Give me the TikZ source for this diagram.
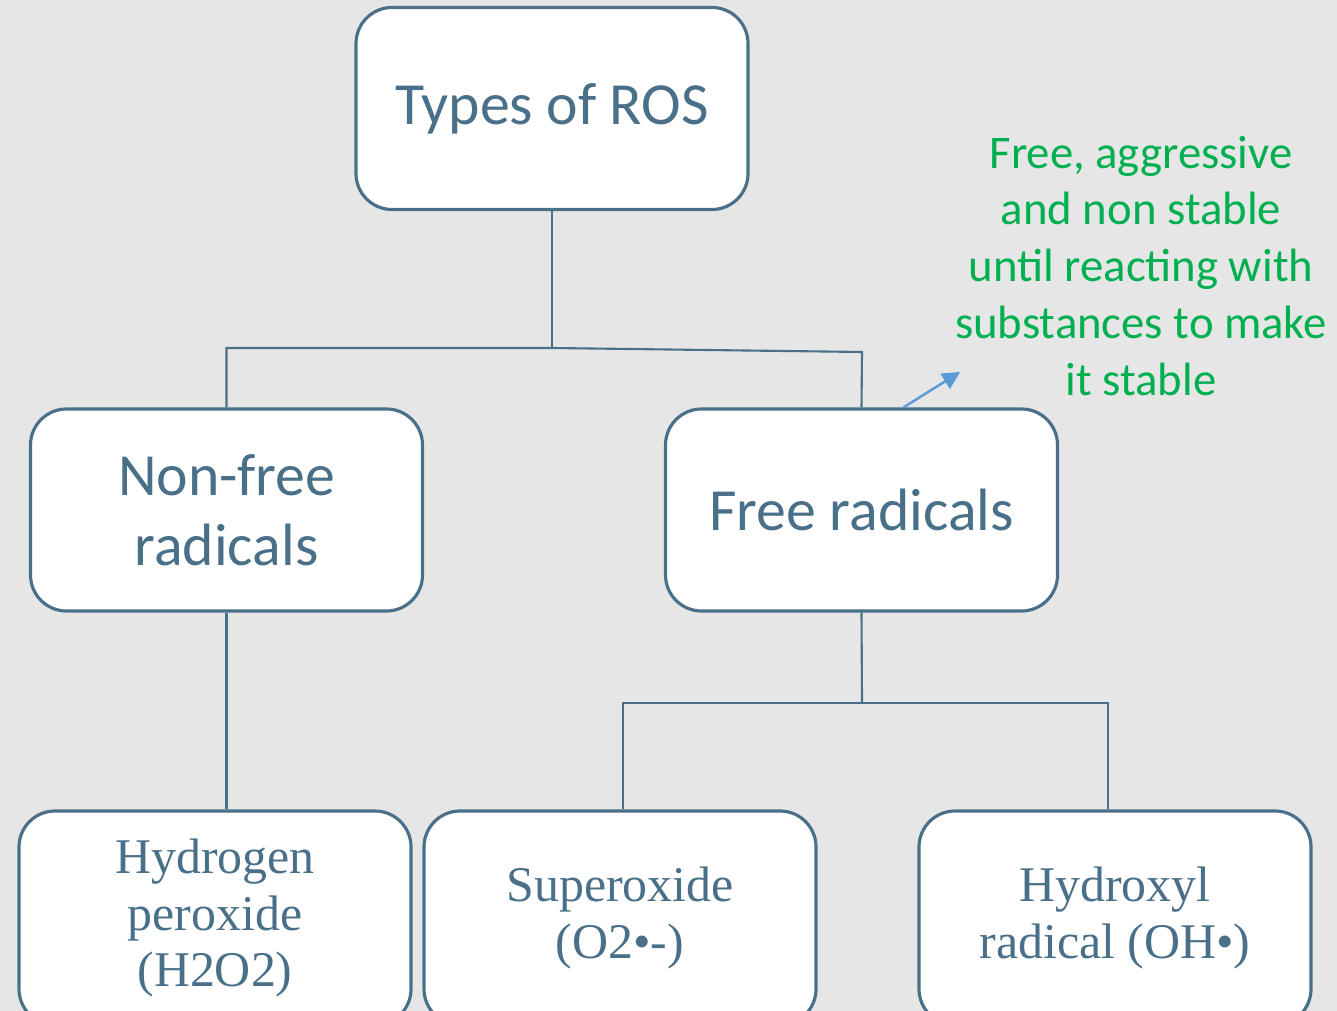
\documentclass[tikz,border=0pt]{standalone}
\usepackage{fontspec}
\setmainfont{Liberation Serif}
\newfontfamily\calib{Carlito}
\usetikzlibrary{arrows.meta}
\definecolor{slate}{HTML}{4A7089}
\definecolor{paper}{HTML}{E6E6E6}
\definecolor{leafgreen}{HTML}{00B050}
\definecolor{skyblue}{HTML}{5B9BD5}
\tikzset{
  box/.style={draw=slate,line width=0.9pt,fill=white,rounded corners=0.36cm,
    minimum width=3.92cm,minimum height=2.02cm,align=center,text=slate,inner sep=0pt},
  headbox/.style={box,font={\calib\fontsize{17}{20}\selectfont}},
  leafbox/.style={box,minimum height=2.14cm,font={\fontsize{14.2}{16}\selectfont}},
  conn/.style={slate,line width=0.6pt},
  note/.style={align=center,text=leafgreen,font={\calib\fontsize{13.3}{16.2}\selectfont}}
}
\begin{document}
\begin{tikzpicture}
  \useasboundingbox (0,0) rectangle (13.37,-10.11);
  \clip (0,0) rectangle (13.37,-10.11);
  \fill[paper] (0,0) rectangle (13.37,-10.11);
  % boxes
  \node[headbox] (ros) at (5.52,-1.085) {Types of ROS};
  \node[headbox] (nonfree) at (2.265,-5.10) {Non-free\\radicals};
  \node[headbox] (free) at (8.615,-5.10) {Free radicals};
  \node[leafbox] (hperox) at (2.15,-9.18) {Hydrogen\\peroxide\\(H2O2)};
  \node[leafbox] (superox) at (6.20,-9.18) {Superoxide\\(O2•-)};
  \node[leafbox] (hydroxyl) at (11.15,-9.18) {Hydroxyl\\radical (OH•)};
  % note
  \node[note] (remark) at (11.41,-2.66) {Free, aggressive\\and non stable\\until reacting with\\substances to make\\it stable};
  % connectors
  \coordinate (split1) at (5.52,-3.48);
  \coordinate (split2) at (8.62,-3.52);
  \coordinate (split3) at (8.62,-7.03);
  \coordinate (drop1) at (6.23,-7.03);
  \coordinate (drop2) at (11.08,-7.03);
  \coordinate (tip) at (9.60,-3.72);
  \draw[conn] (ros.south) -- (split1);
  \draw[conn] (nonfree.north) |- (split1) -- (split2) -- (free.north);
  \draw[conn] (nonfree.south) -- (nonfree.south |- hperox.north);
  \draw[conn] (free.south) -- (split3);
  \draw[conn] (drop1 |- superox.north) -- (drop1) -- (drop2) -- (drop2 |- hydroxyl.north);
  \draw[skyblue,line width=0.7pt,-{Triangle[length=5pt,width=5pt]}] ([xshift=0.42cm]free.north) -- (tip);
\end{tikzpicture}
\end{document}
